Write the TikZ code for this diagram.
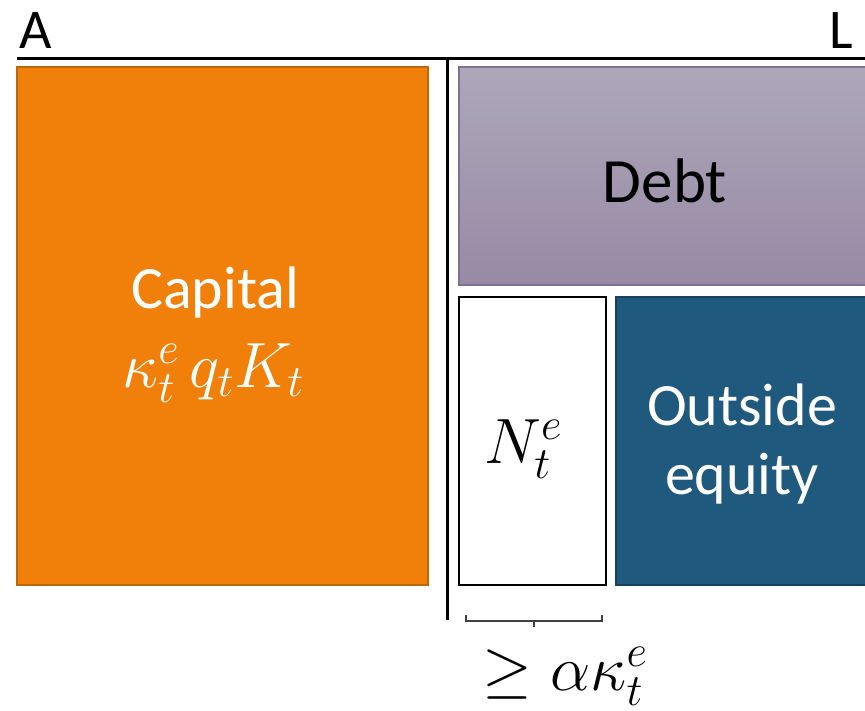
\RequirePackage{fix-cm}
\documentclass[tikz,border=0pt]{standalone}
\usepackage{fontspec}
\setmainfont{Carlito}
\definecolor{orangefill}{HTML}{F08009}
\definecolor{orangeedge}{HTML}{BD680C}
\definecolor{debttop}{HTML}{AEA7BA}
\definecolor{debtbot}{HTML}{968AA4}
\definecolor{debtedge}{HTML}{7E6F93}
\definecolor{bluefill}{HTML}{1F5A7E}
\definecolor{blueedge}{HTML}{17425F}
\definecolor{bracegray}{HTML}{404040}
\begin{document}
\begin{tikzpicture}[x=1pt,y=-1pt,
  box/.style={inner sep=0pt, outer sep=0pt, anchor=north west},
  capitalbox/.style={box, draw=orangeedge, fill=orangefill, line width=2pt},
  debtbox/.style={box, draw=debtedge, top color=debttop, bottom color=debtbot, line width=1.5pt},
  nbox/.style={box, draw=black, fill=white, line width=2pt},
  equitybox/.style={box, draw=blueedge, fill=bluefill, line width=2pt},
  lbl/.style={inner sep=0pt, anchor=base, font=\fontsize{60}{69}\selectfont},
  mathlbl/.style={inner sep=0pt, anchor=base, font=\fontsize{64}{72}\selectfont},
  corner/.style={inner sep=0pt, font=\fontsize{56}{64}\selectfont},
  axisline/.style={draw=black, line width=3pt},
  bracket/.style={draw=bracegray, line width=1.5pt}]
\useasboundingbox (0,0) rectangle (865,710);
\clip (0,0) rectangle (865,710);
% boxes
\node[capitalbox, minimum width=411pt, minimum height=518pt] (capbox) at (17,67) {};
\node[debtbox, minimum width=420pt, minimum height=218pt] (debtbox) at (459,67) {};
\node[nbox, minimum width=147pt, minimum height=288pt] (nbox) at (459,297) {};
\node[equitybox, minimum width=260pt, minimum height=288pt] (eqbox) at (616,297) {};
% axis lines
\coordinate (tl) at (17,58);
\coordinate (tr) at (866,58);
\coordinate (vt) at (447,58);
\coordinate (vb) at (447,620);
\draw[axisline] (tl) -- (tr);
\draw[axisline] (vt) -- (vb);
% bracket
\coordinate (bl) at (466,615);
\coordinate (blb) at (466,621);
\coordinate (brb) at (602,621);
\coordinate (br) at (602,615);
\coordinate (bm) at (534,621);
\coordinate (bmt) at (534,627);
\draw[bracket] (bl) -- (blb) -- (brb) -- (br);
\draw[bracket] (bm) -- (bmt);
% labels
\node[corner, anchor=base west] (alabel) at (19,48) {A};
\node[corner, anchor=base east] (llabel) at (853,48) {L};
\node[lbl, text=white] (captxt) at (215,308) {Capital};
\node[mathlbl, text=white] (capmath) at (213,387) {$\kappa_t^e\, q_t K_t$};
\node[lbl, font=\fontsize{63}{70}\selectfont] (debttxt) at (665,202) {Debt};
\node[lbl, text=white] (outtxt) at (742,425) {Outside};
\node[lbl, text=white] (eqtxt) at (742,494) {equity};
\node[mathlbl] (ntxt) at (523,463) {$N_t^e$};
\node[mathlbl] (geqtxt) at (565,690) {$\geq \alpha\kappa_t^e$};
\end{tikzpicture}
\end{document}
